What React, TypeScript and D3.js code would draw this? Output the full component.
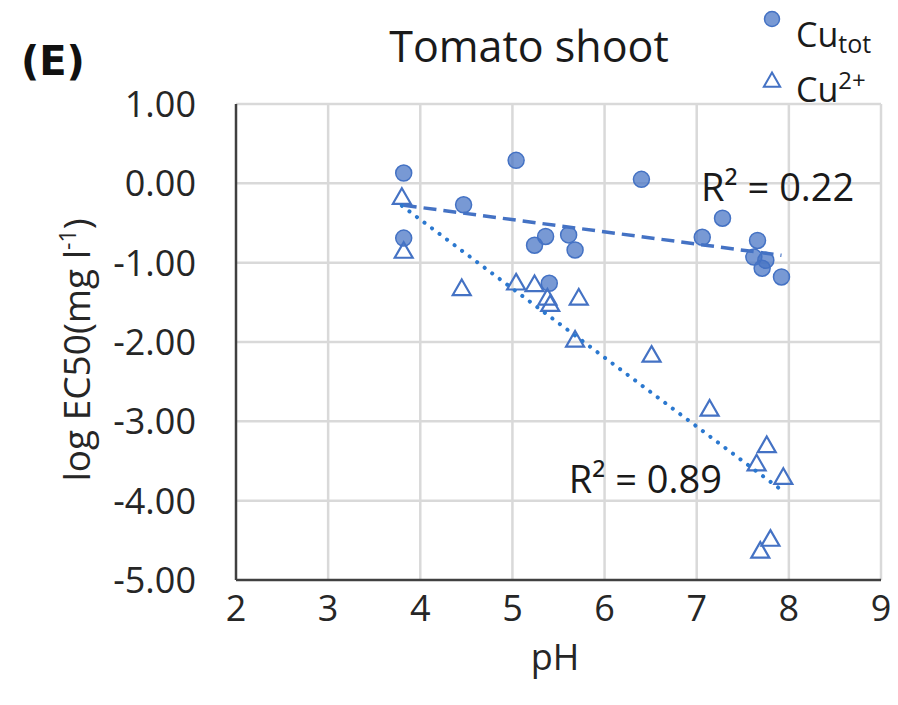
import React from "react";
import * as d3 from "d3";

// Cu_tot (filled circles)
const cuTotPH = [3.82, 3.82, 4.47, 5.04, 5.24, 5.36, 5.40, 5.61, 5.68, 6.40, 7.06, 7.28, 7.66, 7.62, 7.75, 7.71, 7.92];
const cuTotLog = [0.13, -0.69, -0.27, 0.29, -0.78, -0.67, -1.26, -0.65, -0.84, 0.05, -0.68, -0.44, -0.72, -0.93, -0.97, -1.07, -1.18];

// Cu2+ (open triangles)
const cuFreePH = [3.80, 3.82, 4.45, 5.04, 5.24, 5.38, 5.41, 5.72, 5.68, 6.51, 7.14, 7.76, 7.65, 7.94, 7.80, 7.69];
const cuFreeLog = [-0.18, -0.86, -1.33, -1.26, -1.28, -1.45, -1.53, -1.45, -1.98, -2.17, -2.85, -3.31, -3.54, -3.71, -4.49, -4.64];

const xTicks = [2, 3, 4, 5, 6, 7, 8, 9];
const yTicks = [1, 0, -1, -2, -3, -4, -5];
const r2Labels = ["R² = 0.22", "R² = 0.89"];

const W = 898;
const H = 705;
const FONT = "'Open Sans', 'Noto Sans', sans-serif";

function fit(xs: number[], ys: number[]) {
  const mx = d3.mean(xs)!;
  const my = d3.mean(ys)!;
  const sxy = d3.sum(xs, (x, i) => (x - mx) * (ys[i] - my));
  const sxx = d3.sum(xs, (x) => (x - mx) * (x - mx));
  const b = sxy / sxx;
  const a = my - b * mx;
  const [x0, x1] = d3.extent(xs) as [number, number];
  return [
    [x0, a + b * x0],
    [x1, a + b * x1],
  ] as [number, number][];
}

const fmt = d3.formatLocale({
  decimal: ".",
  thousands: ",",
  grouping: [3],
  currency: ["", ""],
  minus: "-",
}).format(".2f");

export default function App() {
  const x = d3.scaleLinear().domain([2, 9]).range([236, 881]);
  const y = d3.scaleLinear().domain([-5, 1]).range([580, 104]);
  const line = d3
    .line<[number, number]>()
    .x((d) => x(d[0]))
    .y((d) => y(d[1]));
  const tri = d3.symbol().type(d3.symbolTriangle).size(140)();
  const totFit = fit(cuTotPH, cuTotLog);
  const freeFit = fit(cuFreePH, cuFreeLog);
  const blue = "#4472c4";

  return (
    <div style={{ position: "absolute", left: 0, top: 0 }}>
      <svg width={W} height={H} style={{ display: "block", background: "#fff" }}>
        {/* gridlines */}
        {xTicks.slice(1).map((t) => (
          <line key={"gx" + t} x1={x(t)} x2={x(t)} y1={y(1)} y2={y(-5)} stroke="#d9d9d9" strokeWidth={2.5} />
        ))}
        {yTicks.slice(0, -1).map((t) => (
          <line key={"gy" + t} x1={x(2)} x2={x(9)} y1={y(t)} y2={y(t)} stroke="#d9d9d9" strokeWidth={2.5} />
        ))}
        {/* axes */}
        <line x1={x(2)} x2={x(2)} y1={y(1)} y2={y(-5)} stroke="#404040" strokeWidth={2.5} />
        <line x1={x(2)} x2={x(9)} y1={y(-5)} y2={y(-5)} stroke="#404040" strokeWidth={2.5} />

        {/* tick labels */}
        {yTicks.map((t) => (
          <text key={"ty" + t} x={196} y={y(t)} dy="0.36em" textAnchor="end" fontFamily={FONT} fontSize={36} fill="#262626">
            {fmt(t)}
          </text>
        ))}
        {xTicks.map((t) => (
          <text key={"tx" + t} x={x(t)} y={621} textAnchor="middle" fontFamily={FONT} fontSize={36} fill="#262626">
            {t}
          </text>
        ))}

        {/* axis titles */}
        <text x={555} y={670} textAnchor="middle" fontFamily={FONT} fontSize={36} fill="#262626">pH</text>
        <text transform="translate(90,350) rotate(-90)" textAnchor="middle" fontFamily={FONT} fontSize={37} fill="#262626">
          log EC50(mg l
          <tspan fontSize={23} dy={-14}>-1</tspan>
          <tspan dy={14}>)</tspan>
        </text>

        {/* markers */}
        {cuTotPH.map((p, i) => (
          <circle key={"c" + i} cx={x(p)} cy={y(cuTotLog[i])} r={8} fill={blue} fillOpacity={0.72} stroke={blue} strokeWidth={1.5} />
        ))}
        {cuFreePH.map((p, i) => (
          <path key={"t" + i} d={tri!} transform={`translate(${x(p)},${y(cuFreeLog[i]) + 1})`} fill="none" stroke={blue} strokeWidth={2.2} />
        ))}

        {/* trendlines */}
        <path d={line(totFit)!} fill="none" stroke={blue} strokeWidth={3.5} strokeDasharray="13 7" />
        <path d={line(freeFit)!} fill="none" stroke="#2b78cf" strokeWidth={4} strokeDasharray="0.1 9.3" strokeLinecap="round" />

        {/* R2 labels */}
        <text x={701} y={201} fontFamily={FONT} fontSize={38} fill="#1a1a1a">{r2Labels[0]}</text>
        <text x={722} y={493} textAnchor="end" fontFamily={FONT} fontSize={38} fill="#1a1a1a">{r2Labels[1]}</text>

        {/* title */}
        <text x={529} y={62} textAnchor="middle" fontFamily={FONT} fontSize={43} fill="#1a1a1a">Tomato shoot</text>
        <text x={21} y={75} fontFamily="'DejaVu Sans', sans-serif" fontWeight="bold" fontSize={40} fill="#111">(E)</text>

        {/* legend */}
        <circle cx={772} cy={19} r={7.5} fill={blue} fillOpacity={0.72} stroke={blue} strokeWidth={1.5} />
        <text x={796} y={47} fontFamily={FONT} fontSize={34} fill="#1a1a1a">
          Cu<tspan fontSize={25} dy={6}>tot</tspan>
        </text>
        <path d={d3.symbol().type(d3.symbolTriangle).size(115)()!} transform="translate(772,82)" fill="none" stroke={blue} strokeWidth={2} />
        <text x={796} y={102} fontFamily={FONT} fontSize={34} fill="#1a1a1a">
          Cu<tspan fontSize={24} dy={-13}>2+</tspan>
        </text>
      </svg>
    </div>
  );
}
